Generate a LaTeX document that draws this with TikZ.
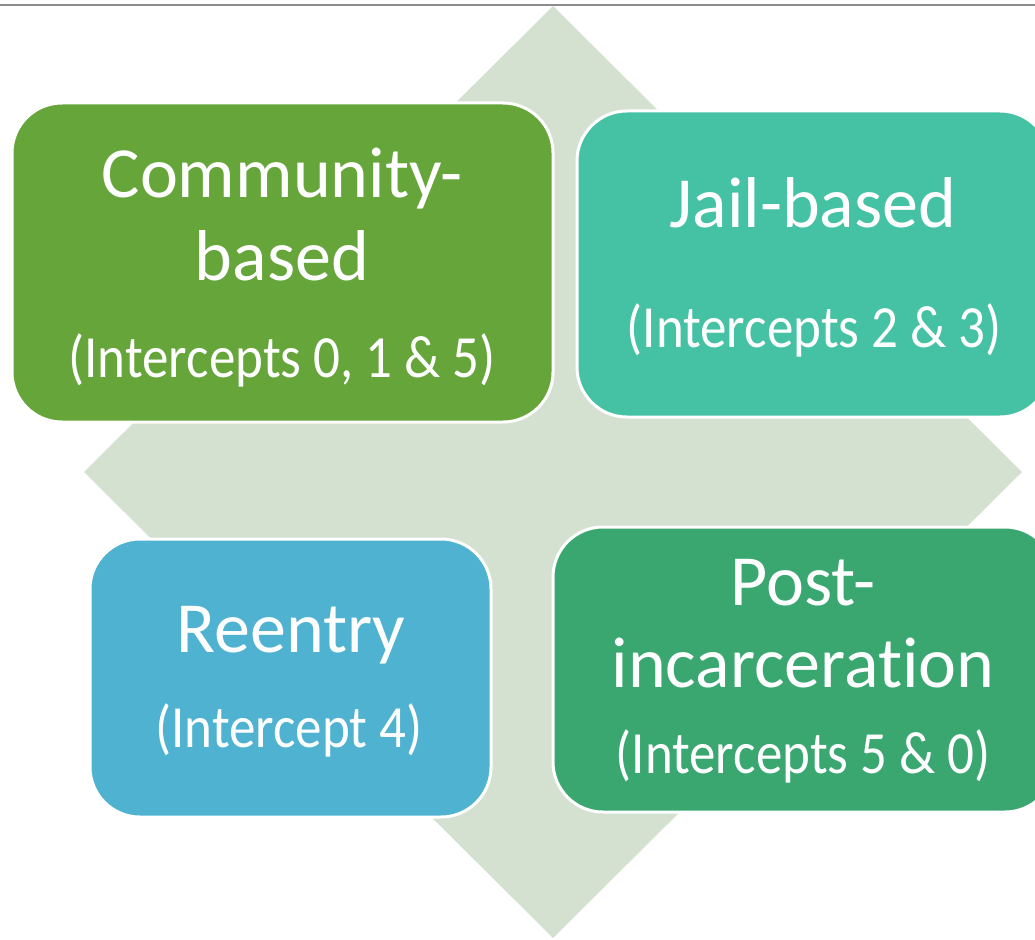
\documentclass[tikz,border=0pt]{standalone}
\usepackage{fontspec}
\setmainfont{Carlito}[Ligatures=NoCommon]
\definecolor{cgreen}{HTML}{65A53A}
\definecolor{cteal}{HTML}{45C1A4}
\definecolor{cblue}{HTML}{4EB2D0}
\definecolor{cdgreen}{HTML}{39A76F}
\definecolor{cdiam}{HTML}{D5E1D0}
\definecolor{cline}{HTML}{8C8C8C}
\newcommand{\tallsmall}[1]{\scalebox{1}[1.13]{#1}}
\tikzset{
  box/.style={draw=white, line width=3pt, rounded corners=50pt, inner sep=0pt, outer sep=0pt},
  bigtxt/.style={text=white, font=\fontsize{72}{86}\selectfont, anchor=base, inner sep=0pt},
  smalltxt/.style={text=white, font=\fontsize{53}{62}\selectfont, anchor=base, inner sep=0pt},
}
\begin{document}
\begin{tikzpicture}[x=1pt,y=-1pt]
\useasboundingbox (0,0) rectangle (1035,939);
\clip (0,0) rectangle (1035,939);
% diamond background
\fill[cdiam] (553,6) -- (1022,472) -- (553,938) -- (84,472) -- cycle;
% top rule
\coordinate (tl) at (0,5);
\coordinate (tr) at (1035,5);
\draw[cline, line width=2pt] (tl) -- (tr);
% boxes
\node[box, fill=cgreen, minimum width=541pt, minimum height=319pt] (cb) at (282.5,262.5) {};
\node[box, fill=cteal, minimum width=473pt, minimum height=306pt] (jb) at (813.5,264) {};
\node[box, fill=cblue, minimum width=401pt, minimum height=278pt] (re) at (290.5,678) {};
\node[box, fill=cdgreen, minimum width=502pt, minimum height=285pt] (pi) at (804,669.5) {};
% texts
\node[bigtxt] (cb1) at (282,197) {Community-};
\node[bigtxt] (cb2) at (282,280) {based};
\node[smalltxt] (cb3) at (282,377) {\tallsmall{(Intercepts 0, 1 \& 5)}};
\node[bigtxt] (jb1) at (813,227) {Jail-based};
\node[smalltxt] (jb2) at (814,347) {\tallsmall{(Intercepts 2 \& 3)}};
\node[bigtxt] (re1) at (291,652) {Reentry};
\node[smalltxt] (re2) at (289,747) {\tallsmall{(Intercept 4)}};
\node[bigtxt] (pi1) at (803,605) {Post-};
\node[bigtxt] (pi2) at (803,687) {incarceration};
\node[smalltxt] (pi3) at (803,773) {\tallsmall{(Intercepts 5 \& 0)}};
\end{tikzpicture}
\end{document}
